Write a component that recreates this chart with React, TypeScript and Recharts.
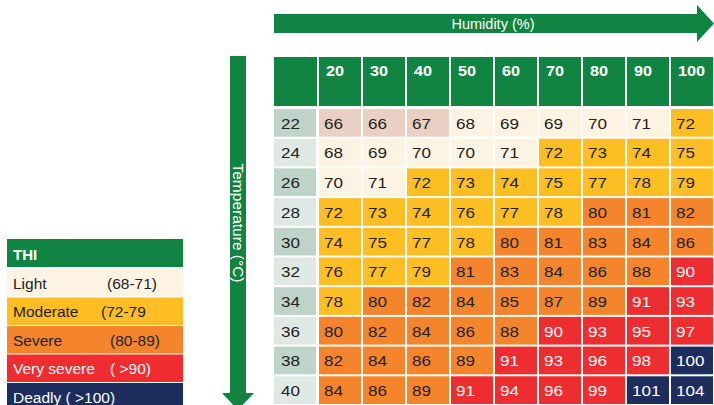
import React from 'react';
import { ScatterChart, Scatter, XAxis, YAxis } from 'recharts';

// humidity (%) columns and temperature (°C) rows
const HUMIDITY = [20, 30, 40, 50, 60, 70, 80, 90, 100];
const TEMPERATURE = [22, 24, 26, 28, 30, 32, 34, 36, 38, 40];

// THI values, one row per temperature
const THI_ROWS = [
  [66, 66, 67, 68, 69, 69, 70, 71, 72],
  [68, 69, 70, 70, 71, 72, 73, 74, 75],
  [70, 71, 72, 73, 74, 75, 77, 78, 79],
  [72, 73, 74, 76, 77, 78, 80, 81, 82],
  [74, 75, 77, 78, 80, 81, 83, 84, 86],
  [76, 77, 79, 81, 83, 84, 86, 88, 90],
  [78, 80, 82, 84, 85, 87, 89, 91, 93],
  [80, 82, 84, 86, 88, 90, 93, 95, 97],
  [82, 84, 86, 89, 91, 93, 96, 98, 100],
  [84, 86, 89, 91, 94, 96, 99, 101, 104],
];

const LEVEL_NAMES = ['Light', 'Moderate', 'Severe', 'Very severe', 'Deadly'];
const LEVEL_RANGES = ['(68-71)', '(72-79', '(80-89)', '( >90)', '( >100)'];
const LEVEL_MIN = [68, 72, 80, 90, 100];

const LEVEL_COLORS = ['#FCF3E2', '#FDBE24', '#F4852D', '#EE2D31', '#1D2E5E'];
const LEVEL_TEXT = ['#222', '#222', '#222', '#fff', '#fff'];
const BELOW_COLOR = '#EACFC3';
const GREEN = '#128441';
const TEMP_FILLS = ['#BED4C9', '#DFE9E4'];
const RANGE_X = [107, 101, 110, 110];

const FONT = '"Liberation Sans", Arial, sans-serif';

const W = 714;
const H = 405;
const TABLE_LEFT = 274;
const HEADER_TOP = 57;
const HEADER_H = 51;
const COL_W = 44;
const PLOT_TOP = HEADER_TOP + HEADER_H;
const ROW_H = (H - PLOT_TOP) / TEMPERATURE.length;

const levelOf = (v: number) => {
  let lvl = -1;
  LEVEL_MIN.forEach((m, i) => {
    if (v >= m) lvl = i;
  });
  return lvl;
};

const cells = THI_ROWS.flatMap((row, r) =>
  row.map((v, c) => ({ h: HUMIDITY[c], t: TEMPERATURE[r], v }))
);

const Stretched = ({ x, y, fill, size, children }: any) => (
  <text
    transform={`translate(${x},${y}) scale(1.22,1)`}
    fill={fill}
    fontSize={size}
    fontFamily={FONT}
    dominantBaseline="central"
  >
    {children}
  </text>
);

const HeaderTick = (props: any) => {
  const { x, payload } = props;
  return (
    <g>
      <rect x={x - COL_W / 2 + 1} y={HEADER_TOP} width={COL_W - 2} height={HEADER_H - 2} fill={GREEN} />
      <text
        transform={`translate(${x - COL_W / 2 + 8},${HEADER_TOP + 18.5}) scale(1.12,1)`}
        fill="#fff"
        fontSize={14.5}
        fontWeight="bold"
        fontFamily={FONT}
      >
        {payload.value}
      </text>
    </g>
  );
};

const TempTick = (props: any) => {
  const { y, payload, index } = props;
  return (
    <g>
      <rect x={TABLE_LEFT} y={y - ROW_H / 2 + 1} width={COL_W - 2} height={ROW_H - 2} fill={TEMP_FILLS[index % 2]} />
      <Stretched x={TABLE_LEFT + 7} y={y + 1} fill="#222" size={14}>
        {payload.value}
      </Stretched>
    </g>
  );
};

const CellShape = (props: any) => {
  const { cx, cy, payload } = props;
  const lvl = levelOf(payload.v);
  const fill = lvl < 0 ? BELOW_COLOR : LEVEL_COLORS[lvl];
  const color = lvl < 0 ? '#222' : LEVEL_TEXT[lvl];
  return (
    <g>
      <rect x={cx - COL_W / 2 + 1} y={cy - ROW_H / 2 + 1} width={COL_W - 2} height={ROW_H - 2} fill={fill} />
      <Stretched x={cx - COL_W / 2 + 6} y={cy + 1} fill={color} size={14}>
        {payload.v}
      </Stretched>
    </g>
  );
};

const LEG_X = 7;
const LEG_W = 176;
const LEG_TOP = 239;
const LEG_HEAD_H = 28;
const LEG_ROW_H = 28.5;

const Decorations = () => (
  <svg width={W} height={H} style={{ position: 'absolute', left: 0, top: 0 }}>
    {/* humidity arrow */}
    <rect x={TABLE_LEFT} y={14} width={698 - TABLE_LEFT} height={19} fill={GREEN} />
    <polygon points="697,5 714,23.5 697,42" fill={GREEN} />
    <text x={493} y={24} fill="#fff" fontSize={14.5} fontFamily={FONT} textAnchor="middle" dominantBaseline="central">
      Humidity (%)
    </text>
    {/* temperature arrow */}
    <rect x={230} y={56} width={16} height={338} fill={GREEN} />
    <polygon points="222,393 254,393 238,410" fill={GREEN} />
    <text
      transform="translate(238,223) rotate(90)"
      fill="#fff"
      fontSize={15.5}
      fontFamily={FONT}
      textAnchor="middle"
      dominantBaseline="central"
    >
      Temperature (°C)
    </text>
    {/* corner cell */}
    <rect x={TABLE_LEFT} y={HEADER_TOP} width={COL_W - 1} height={HEADER_H - 2} fill={GREEN} />
    {/* legend */}
    <rect x={LEG_X} y={LEG_TOP} width={LEG_W} height={LEG_HEAD_H} fill={GREEN} />
    <text x={LEG_X + 6} y={LEG_TOP + LEG_HEAD_H / 2 + 1} fill="#fff" fontSize={15} fontWeight="bold" fontFamily={FONT} dominantBaseline="central">
      THI
    </text>
    {LEVEL_NAMES.map((name, i) => {
      const top = LEG_TOP + LEG_HEAD_H + 2 + i * LEG_ROW_H;
      const cy = top + LEG_ROW_H / 2;
      const last = i === LEVEL_NAMES.length - 1;
      return (
        <g key={name}>
          <rect x={LEG_X} y={top} width={LEG_W} height={LEG_ROW_H - 1} fill={LEVEL_COLORS[i]} />
          <text x={LEG_X + 6} y={cy} fill={LEVEL_TEXT[i]} fontSize={15.5} fontFamily={FONT} dominantBaseline="central">
            {last ? `${name} ${LEVEL_RANGES[i]}` : name}
          </text>
          {!last && (
            <text x={RANGE_X[i]} y={cy} fill={LEVEL_TEXT[i]} fontSize={15.5} fontFamily={FONT} dominantBaseline="central">
              {LEVEL_RANGES[i]}
            </text>
          )}
        </g>
      );
    })}
  </svg>
);

export default function App() {
  return (
    <div style={{ position: 'absolute', left: 0, top: 0, width: W, height: H, background: '#fff', overflow: 'hidden' }}>
      <Decorations />
      <div style={{ position: 'absolute', left: 0, top: 0 }}>
        <ScatterChart width={W} height={H} margin={{ top: HEADER_TOP, right: 0, bottom: 0, left: TABLE_LEFT }}>
          <XAxis
            type="number"
            dataKey="h"
            orientation="top"
            domain={[15, 105]}
            ticks={HUMIDITY}
            height={HEADER_H}
            axisLine={false}
            tickLine={false}
            interval={0}
            tick={(p: any) => <HeaderTick {...p} />}
          />
          <YAxis
            type="number"
            dataKey="t"
            domain={[21, 41]}
            reversed
            ticks={TEMPERATURE}
            width={COL_W}
            axisLine={false}
            tickLine={false}
            interval={0}
            tick={(p: any) => <TempTick {...p} />}
          />
          <Scatter data={cells} isAnimationActive={false} shape={(p: any) => <CellShape {...p} />} />
        </ScatterChart>
      </div>
    </div>
  );
}
